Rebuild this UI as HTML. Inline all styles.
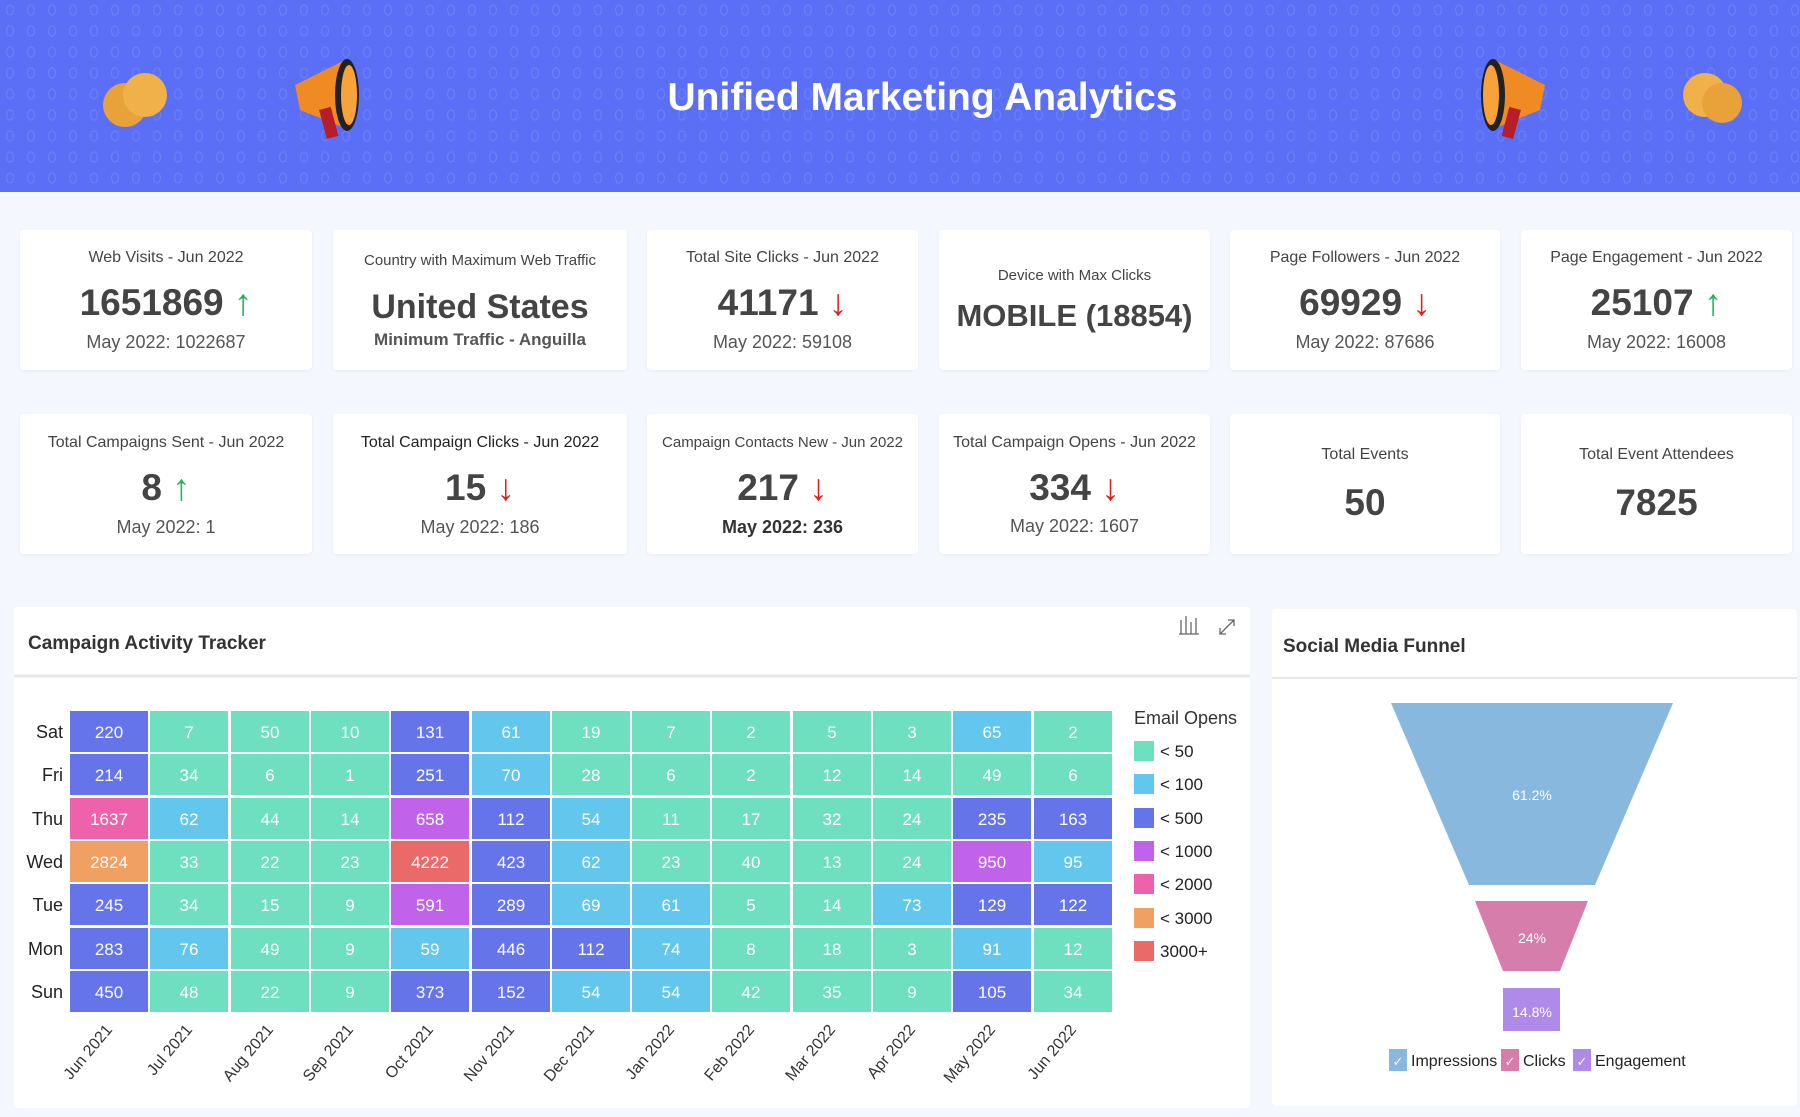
<!DOCTYPE html>
<html><head><meta charset="utf-8"><style>
*{margin:0;padding:0;box-sizing:border-box}
body{width:1800px;height:1117px;background:#f4f7fe;font-family:"Liberation Sans",sans-serif;position:relative;overflow:hidden;color:#3a3a3a}
.hdr{position:absolute;left:0;top:0;width:1800px;height:192px;background:#5a6ff5}
.title{position:absolute;left:0;width:1845px;top:74px;text-align:center;color:#fff;font-size:39px;font-weight:bold;line-height:48px}
.card{position:absolute;background:#fff;border-radius:4px;box-shadow:0 1px 3px rgba(0,0,0,.05)}
.t{position:absolute;left:0;right:0;text-align:center;white-space:nowrap}
.a{font-size:16px;color:#444;line-height:20px}
.v{font-size:37px;font-weight:bold;color:#444;line-height:42px}
.s{font-size:18px;color:#555;line-height:22px}
.up{color:#1fb65a;font-weight:normal}.dn{color:#e02020;font-weight:normal}
.panel{position:absolute;background:#fff;border-radius:4px}
</style></head><body>
<div class="hdr">
<svg width="1800" height="192" style="position:absolute;left:0;top:0">
<defs><pattern id="pt" width="21" height="21" patternUnits="userSpaceOnUse"><ellipse cx="10" cy="10" rx="3.5" ry="5" fill="none" stroke="#6a7ef7" stroke-width="1.3"/></pattern></defs>
<rect width="1800" height="192" fill="url(#pt)"/>
<g><circle cx="125" cy="105" r="22" fill="#e9a13a"/><circle cx="145" cy="95" r="22" fill="#f0b04a"/></g>
<g><polygon points="295,85 345,60 350,130 300,110" fill="#f08a22"/><ellipse cx="347" cy="95" rx="12" ry="36" fill="#222"/><ellipse cx="349" cy="95" rx="8" ry="30" fill="#f7a23a"/><rect x="322" y="108" width="12" height="30" fill="#b81e2a" transform="rotate(-15 328 120)"/></g>
<g><polygon points="1545,85 1495,60 1490,130 1540,110" fill="#f08a22"/><ellipse cx="1493" cy="95" rx="12" ry="36" fill="#222"/><ellipse cx="1491" cy="95" rx="8" ry="30" fill="#f7a23a"/><rect x="1506" y="108" width="12" height="30" fill="#b81e2a" transform="rotate(15 1512 120)"/></g>
<g><circle cx="1705" cy="95" r="22" fill="#f0b04a"/><circle cx="1722" cy="103" r="20" fill="#e9a13a"/></g>
</svg>
<div class="title">Unified Marketing Analytics</div>
</div>

<div class="card" style="left:20px;top:230px;width:292px;height:140px">
<div class="t a" style="top:18px">Web Visits - Jun 2022</div>
<div class="t v" style="top:52px">1651869 <span class="up">↑</span></div>
<div class="t s" style="top:101px">May 2022: 1022687</div></div>
<div class="card" style="left:333px;top:230px;width:294px;height:140px">
<div class="t a" style="top:21px;font-size:15px">Country with Maximum Web Traffic</div>
<div class="t v" style="top:56px;font-size:34px">United States</div>
<div class="t s" style="top:99px;font-weight:bold;color:#555;font-size:17px">Minimum Traffic - Anguilla</div></div>
<div class="card" style="left:647px;top:230px;width:271px;height:140px">
<div class="t a" style="top:18px">Total Site Clicks - Jun 2022</div>
<div class="t v" style="top:52px">41171 <span class="dn">↓</span></div>
<div class="t s" style="top:101px">May 2022: 59108</div></div>
<div class="card" style="left:939px;top:230px;width:271px;height:140px">
<div class="t a" style="top:36px;font-size:15px">Device with Max Clicks</div>
<div class="t v" style="top:65px;font-size:31px">MOBILE (18854)</div></div>
<div class="card" style="left:1230px;top:230px;width:270px;height:140px">
<div class="t a" style="top:18px">Page Followers - Jun 2022</div>
<div class="t v" style="top:52px">69929 <span class="dn">↓</span></div>
<div class="t s" style="top:101px">May 2022: 87686</div></div>
<div class="card" style="left:1521px;top:230px;width:271px;height:140px">
<div class="t a" style="top:18px">Page Engagement - Jun 2022</div>
<div class="t v" style="top:52px">25107 <span class="up">↑</span></div>
<div class="t s" style="top:101px">May 2022: 16008</div></div>

<div class="card" style="left:20px;top:414px;width:292px;height:140px">
<div class="t a" style="top:19px">Total Campaigns Sent - Jun 2022</div>
<div class="t v" style="top:53px">8 <span class="up">↑</span></div>
<div class="t s" style="top:102px">May 2022: 1</div></div>
<div class="card" style="left:333px;top:414px;width:294px;height:140px">
<div class="t a" style="top:19px;color:#222">Total Campaign Clicks - Jun 2022</div>
<div class="t v" style="top:53px">15 <span class="dn">↓</span></div>
<div class="t s" style="top:102px">May 2022: 186</div></div>
<div class="card" style="left:647px;top:414px;width:271px;height:140px">
<div class="t a" style="top:19px;font-size:15px">Campaign Contacts New - Jun 2022</div>
<div class="t v" style="top:53px">217 <span class="dn">↓</span></div>
<div class="t s" style="top:102px;font-weight:bold;color:#333">May 2022: 236</div></div>
<div class="card" style="left:939px;top:414px;width:271px;height:140px">
<div class="t a" style="top:19px">Total Campaign Opens - Jun 2022</div>
<div class="t v" style="top:53px">334 <span class="dn">↓</span></div>
<div class="t s" style="top:101px">May 2022: 1607</div></div>
<div class="card" style="left:1230px;top:414px;width:270px;height:140px">
<div class="t a" style="top:31px">Total Events</div>
<div class="t v" style="top:68px">50</div></div>
<div class="card" style="left:1521px;top:414px;width:271px;height:140px">
<div class="t a" style="top:31px">Total Event Attendees</div>
<div class="t v" style="top:68px">7825</div></div>

<div class="panel" style="left:14px;top:607px;width:1236px;height:501px"></div>
<div class="panel" style="left:1272px;top:609px;width:525px;height:497px"></div>

<svg width="1800" height="1117" style="position:absolute;left:0;top:0" font-family="Liberation Sans, sans-serif">
<style>
.g{fill:#6ee0c0}.c{fill:#63c6ec}.b{fill:#6674ea}.p{fill:#c062ea}.k{fill:#ee62ac}.o{fill:#f0a063}.r{fill:#ea6a6a}
.n text{fill:#fff;font-size:17px;text-anchor:middle}
.d{fill:#222;font-size:18px;text-anchor:end}
.m{fill:#333;font-size:16px;text-anchor:end}
</style>
<text x="28" y="649" font-size="19" font-weight="bold" fill="#333">Campaign Activity Tracker</text>
<line x1="14" y1="676" x2="1250" y2="676" stroke="#e6e6e6" stroke-width="3"/>
<g fill="none" stroke="#666" stroke-width="1.3"><path d="M1181 634v-14M1186 634v-18M1191 634v-12M1196 634v-16M1179 634h20"/><path d="M1220 634l14-14M1228 620h6v6M1220 628v6h6"/></g>
<text x="1283" y="652" font-size="19" font-weight="bold" fill="#333">Social Media Funnel</text>
<line x1="1272" y1="678" x2="1797" y2="678" stroke="#e6e6e6" stroke-width="2"/>

<g class="n">
<rect class="b" x="70" y="711" width="78" height="41"/><text x="109" y="738">220</text>
<rect class="g" x="150" y="711" width="78" height="41"/><text x="189" y="738">7</text>
<rect class="g" x="231" y="711" width="78" height="41"/><text x="270" y="738">50</text>
<rect class="g" x="311" y="711" width="78" height="41"/><text x="350" y="738">10</text>
<rect class="b" x="391" y="711" width="78" height="41"/><text x="430" y="738">131</text>
<rect class="c" x="472" y="711" width="78" height="41"/><text x="511" y="738">61</text>
<rect class="g" x="552" y="711" width="78" height="41"/><text x="591" y="738">19</text>
<rect class="g" x="632" y="711" width="78" height="41"/><text x="671" y="738">7</text>
<rect class="g" x="712" y="711" width="78" height="41"/><text x="751" y="738">2</text>
<rect class="g" x="793" y="711" width="78" height="41"/><text x="832" y="738">5</text>
<rect class="g" x="873" y="711" width="78" height="41"/><text x="912" y="738">3</text>
<rect class="c" x="953" y="711" width="78" height="41"/><text x="992" y="738">65</text>
<rect class="g" x="1034" y="711" width="78" height="41"/><text x="1073" y="738">2</text>

<rect class="b" x="70" y="754" width="78" height="41"/><text x="109" y="781">214</text>
<rect class="g" x="150" y="754" width="78" height="41"/><text x="189" y="781">34</text>
<rect class="g" x="231" y="754" width="78" height="41"/><text x="270" y="781">6</text>
<rect class="g" x="311" y="754" width="78" height="41"/><text x="350" y="781">1</text>
<rect class="b" x="391" y="754" width="78" height="41"/><text x="430" y="781">251</text>
<rect class="c" x="472" y="754" width="78" height="41"/><text x="511" y="781">70</text>
<rect class="g" x="552" y="754" width="78" height="41"/><text x="591" y="781">28</text>
<rect class="g" x="632" y="754" width="78" height="41"/><text x="671" y="781">6</text>
<rect class="g" x="712" y="754" width="78" height="41"/><text x="751" y="781">2</text>
<rect class="g" x="793" y="754" width="78" height="41"/><text x="832" y="781">12</text>
<rect class="g" x="873" y="754" width="78" height="41"/><text x="912" y="781">14</text>
<rect class="g" x="953" y="754" width="78" height="41"/><text x="992" y="781">49</text>
<rect class="g" x="1034" y="754" width="78" height="41"/><text x="1073" y="781">6</text>

<rect class="k" x="70" y="798" width="78" height="41"/><text x="109" y="825">1637</text>
<rect class="c" x="150" y="798" width="78" height="41"/><text x="189" y="825">62</text>
<rect class="g" x="231" y="798" width="78" height="41"/><text x="270" y="825">44</text>
<rect class="g" x="311" y="798" width="78" height="41"/><text x="350" y="825">14</text>
<rect class="p" x="391" y="798" width="78" height="41"/><text x="430" y="825">658</text>
<rect class="b" x="472" y="798" width="78" height="41"/><text x="511" y="825">112</text>
<rect class="c" x="552" y="798" width="78" height="41"/><text x="591" y="825">54</text>
<rect class="g" x="632" y="798" width="78" height="41"/><text x="671" y="825">11</text>
<rect class="g" x="712" y="798" width="78" height="41"/><text x="751" y="825">17</text>
<rect class="g" x="793" y="798" width="78" height="41"/><text x="832" y="825">32</text>
<rect class="g" x="873" y="798" width="78" height="41"/><text x="912" y="825">24</text>
<rect class="b" x="953" y="798" width="78" height="41"/><text x="992" y="825">235</text>
<rect class="b" x="1034" y="798" width="78" height="41"/><text x="1073" y="825">163</text>

<rect class="o" x="70" y="841" width="78" height="41"/><text x="109" y="868">2824</text>
<rect class="g" x="150" y="841" width="78" height="41"/><text x="189" y="868">33</text>
<rect class="g" x="231" y="841" width="78" height="41"/><text x="270" y="868">22</text>
<rect class="g" x="311" y="841" width="78" height="41"/><text x="350" y="868">23</text>
<rect class="r" x="391" y="841" width="78" height="41"/><text x="430" y="868">4222</text>
<rect class="b" x="472" y="841" width="78" height="41"/><text x="511" y="868">423</text>
<rect class="c" x="552" y="841" width="78" height="41"/><text x="591" y="868">62</text>
<rect class="g" x="632" y="841" width="78" height="41"/><text x="671" y="868">23</text>
<rect class="g" x="712" y="841" width="78" height="41"/><text x="751" y="868">40</text>
<rect class="g" x="793" y="841" width="78" height="41"/><text x="832" y="868">13</text>
<rect class="g" x="873" y="841" width="78" height="41"/><text x="912" y="868">24</text>
<rect class="p" x="953" y="841" width="78" height="41"/><text x="992" y="868">950</text>
<rect class="c" x="1034" y="841" width="78" height="41"/><text x="1073" y="868">95</text>

<rect class="b" x="70" y="884" width="78" height="41"/><text x="109" y="911">245</text>
<rect class="g" x="150" y="884" width="78" height="41"/><text x="189" y="911">34</text>
<rect class="g" x="231" y="884" width="78" height="41"/><text x="270" y="911">15</text>
<rect class="g" x="311" y="884" width="78" height="41"/><text x="350" y="911">9</text>
<rect class="p" x="391" y="884" width="78" height="41"/><text x="430" y="911">591</text>
<rect class="b" x="472" y="884" width="78" height="41"/><text x="511" y="911">289</text>
<rect class="c" x="552" y="884" width="78" height="41"/><text x="591" y="911">69</text>
<rect class="c" x="632" y="884" width="78" height="41"/><text x="671" y="911">61</text>
<rect class="g" x="712" y="884" width="78" height="41"/><text x="751" y="911">5</text>
<rect class="g" x="793" y="884" width="78" height="41"/><text x="832" y="911">14</text>
<rect class="c" x="873" y="884" width="78" height="41"/><text x="912" y="911">73</text>
<rect class="b" x="953" y="884" width="78" height="41"/><text x="992" y="911">129</text>
<rect class="b" x="1034" y="884" width="78" height="41"/><text x="1073" y="911">122</text>

<rect class="b" x="70" y="928" width="78" height="41"/><text x="109" y="955">283</text>
<rect class="c" x="150" y="928" width="78" height="41"/><text x="189" y="955">76</text>
<rect class="g" x="231" y="928" width="78" height="41"/><text x="270" y="955">49</text>
<rect class="g" x="311" y="928" width="78" height="41"/><text x="350" y="955">9</text>
<rect class="c" x="391" y="928" width="78" height="41"/><text x="430" y="955">59</text>
<rect class="b" x="472" y="928" width="78" height="41"/><text x="511" y="955">446</text>
<rect class="b" x="552" y="928" width="78" height="41"/><text x="591" y="955">112</text>
<rect class="c" x="632" y="928" width="78" height="41"/><text x="671" y="955">74</text>
<rect class="g" x="712" y="928" width="78" height="41"/><text x="751" y="955">8</text>
<rect class="g" x="793" y="928" width="78" height="41"/><text x="832" y="955">18</text>
<rect class="g" x="873" y="928" width="78" height="41"/><text x="912" y="955">3</text>
<rect class="c" x="953" y="928" width="78" height="41"/><text x="992" y="955">91</text>
<rect class="g" x="1034" y="928" width="78" height="41"/><text x="1073" y="955">12</text>

<rect class="b" x="70" y="971" width="78" height="41"/><text x="109" y="998">450</text>
<rect class="g" x="150" y="971" width="78" height="41"/><text x="189" y="998">48</text>
<rect class="g" x="231" y="971" width="78" height="41"/><text x="270" y="998">22</text>
<rect class="g" x="311" y="971" width="78" height="41"/><text x="350" y="998">9</text>
<rect class="b" x="391" y="971" width="78" height="41"/><text x="430" y="998">373</text>
<rect class="b" x="472" y="971" width="78" height="41"/><text x="511" y="998">152</text>
<rect class="c" x="552" y="971" width="78" height="41"/><text x="591" y="998">54</text>
<rect class="c" x="632" y="971" width="78" height="41"/><text x="671" y="998">54</text>
<rect class="g" x="712" y="971" width="78" height="41"/><text x="751" y="998">42</text>
<rect class="g" x="793" y="971" width="78" height="41"/><text x="832" y="998">35</text>
<rect class="g" x="873" y="971" width="78" height="41"/><text x="912" y="998">9</text>
<rect class="b" x="953" y="971" width="78" height="41"/><text x="992" y="998">105</text>
<rect class="g" x="1034" y="971" width="78" height="41"/><text x="1073" y="998">34</text>
</g>

<text class="d" x="63" y="738">Sat</text><text class="d" x="63" y="781">Fri</text><text class="d" x="63" y="825">Thu</text><text class="d" x="63" y="868">Wed</text><text class="d" x="63" y="911">Tue</text><text class="d" x="63" y="955">Mon</text><text class="d" x="63" y="998">Sun</text>

<text class="m" transform="translate(113,1030) rotate(-50)">Jun 2021</text>
<text class="m" transform="translate(193,1030) rotate(-50)">Jul 2021</text>
<text class="m" transform="translate(274,1030) rotate(-50)">Aug 2021</text>
<text class="m" transform="translate(354,1030) rotate(-50)">Sep 2021</text>
<text class="m" transform="translate(434,1030) rotate(-50)">Oct 2021</text>
<text class="m" transform="translate(515,1030) rotate(-50)">Nov 2021</text>
<text class="m" transform="translate(595,1030) rotate(-50)">Dec 2021</text>
<text class="m" transform="translate(675,1030) rotate(-50)">Jan 2022</text>
<text class="m" transform="translate(755,1030) rotate(-50)">Feb 2022</text>
<text class="m" transform="translate(836,1030) rotate(-50)">Mar 2022</text>
<text class="m" transform="translate(916,1030) rotate(-50)">Apr 2022</text>
<text class="m" transform="translate(996,1030) rotate(-50)">May 2022</text>
<text class="m" transform="translate(1077,1030) rotate(-50)">Jun 2022</text>

<text x="1134" y="724" font-size="18" fill="#333">Email Opens</text>
<g font-size="17" fill="#222">
<rect class="g" x="1134" y="741" width="20" height="20"/><text x="1160" y="757">&lt; 50</text>
<rect class="c" x="1134" y="774" width="20" height="20"/><text x="1160" y="790">&lt; 100</text>
<rect class="b" x="1134" y="808" width="20" height="20"/><text x="1160" y="824">&lt; 500</text>
<rect class="p" x="1134" y="841" width="20" height="20"/><text x="1160" y="857">&lt; 1000</text>
<rect class="k" x="1134" y="874" width="20" height="20"/><text x="1160" y="890">&lt; 2000</text>
<rect class="o" x="1134" y="908" width="20" height="20"/><text x="1160" y="924">&lt; 3000</text>
<rect class="r" x="1134" y="941" width="20" height="20"/><text x="1160" y="957">3000+</text>
</g>

<polygon points="1391,703 1673,703 1595,885 1469,885" fill="#89b8de"/>
<polygon points="1475,901 1588,901 1560,971 1503,971" fill="#d67dac"/>
<rect x="1503" y="988" width="57" height="43" fill="#b08ae8"/>
<g fill="#fff" font-size="14" text-anchor="middle">
<text x="1532" y="800">61.2%</text><text x="1532" y="943">24%</text><text x="1532" y="1017">14.8%</text></g>
<g font-size="16" fill="#222">
<rect x="1389" y="1049" width="18" height="22" fill="#89b8de"/><text x="1398" y="1066" fill="#fff" text-anchor="middle" font-size="13">✓</text><text x="1411" y="1066">Impressions</text>
<rect x="1501" y="1049" width="18" height="22" fill="#d67dac"/><text x="1510" y="1066" fill="#fff" text-anchor="middle" font-size="13">✓</text><text x="1523" y="1066">Clicks</text>
<rect x="1573" y="1049" width="18" height="22" fill="#b08ae8"/><text x="1582" y="1066" fill="#fff" text-anchor="middle" font-size="13">✓</text><text x="1595" y="1066">Engagement</text>
</g>
</svg>
</body></html>
